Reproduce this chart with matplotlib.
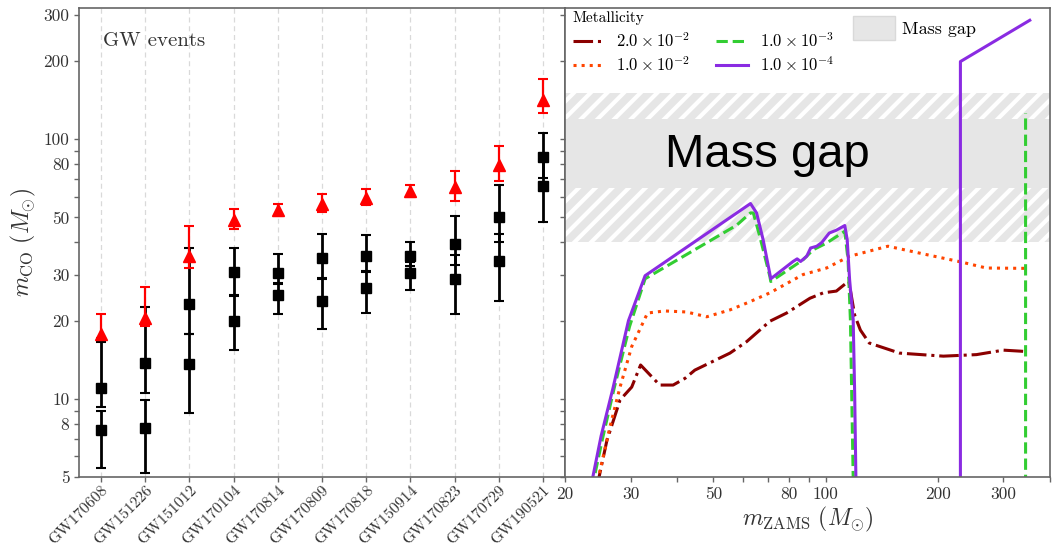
import numpy as np
import matplotlib
matplotlib.use("Agg")
import matplotlib.pyplot as plt
from matplotlib.ticker import FixedLocator, FixedFormatter, NullFormatter
from matplotlib.patches import Patch

plt.rcParams["font.family"] = ["cmr10", "DejaVu Serif"]
plt.rcParams["mathtext.fontset"] = "cm"
plt.rcParams["axes.formatter.use_mathtext"] = True
plt.rcParams["hatch.linewidth"] = 3.0

# ---- GW events (GWTC-1 + GW190521) ----
events = ["GW170608", "GW151226", "GW151012", "GW170104", "GW170814", "GW170809",
          "GW170818", "GW150914", "GW170823", "GW170729", "GW190521"]
m1 = [11.0, 13.7, 23.2, 30.8, 30.6, 35.0, 35.4, 35.6, 39.5, 50.2, 85.0]
m1_up = [5.5, 8.8, 14.9, 7.3, 5.6, 8.3, 7.5, 4.7, 11.2, 16.2, 21.0]
m1_lo = [1.7, 3.2, 5.5, 5.6, 3.0, 5.9, 4.7, 3.1, 6.7, 10.2, 14.0]
m2 = [7.6, 7.7, 13.6, 20.0, 25.2, 23.8, 26.7, 30.6, 29.0, 34.0, 66.0]
m2_up = [1.4, 2.2, 4.1, 4.9, 2.8, 5.1, 4.3, 3.0, 6.7, 9.1, 17.0]
m2_lo = [2.2, 2.5, 4.8, 4.6, 4.0, 5.2, 5.2, 4.4, 7.8, 10.1, 18.0]
mf = [17.8, 20.5, 35.6, 48.9, 53.2, 56.3, 59.4, 63.1, 65.4, 79.5, 142.0]
mf_up = [3.4, 6.4, 10.8, 5.1, 3.2, 5.2, 4.9, 3.4, 10.1, 14.7, 28.0]
mf_lo = [0.7, 1.5, 3.8, 4.0, 2.4, 3.8, 3.8, 3.0, 7.4, 10.2, 16.0]

# ---- CO core mass vs ZAMS mass for four metallicities ----
mz_z2e2 = [24.3, 25.9, 28.1, 30.2, 31.9, 35.9, 39.0, 42.0, 44.6, 55.4, 61.4, 70.9,
           78.6, 90.8, 98.6, 106.9, 113.6, 115.5, 119.7, 124, 131, 158, 207, 254, 300, 349]
mco_z2e2 = [4.5, 6.9, 9.9, 11.1, 13.5, 11.3, 11.3, 12.0, 12.9, 15.0, 16.6, 19.9,
            21.4, 24.4, 25.6, 26.0, 27.9, 28.3, 21.0, 18.4, 16.4, 15.0, 14.6, 14.8, 15.4, 15.2]

mz_z1e2 = [24.2, 26.4, 28.1, 30.2, 33.3, 37.0, 42.4, 48.0, 55.4, 62.0, 70.9, 87.0,
           100.6, 116.0, 147.0, 187.0, 230.0, 270.0, 345.0]
mco_z1e2 = [4.5, 7.8, 11.1, 15.9, 21.4, 21.8, 21.6, 20.7, 22.0, 23.5, 25.6, 30.1,
            31.9, 35.4, 38.7, 35.9, 33.7, 31.9, 31.8]

mz_z1e3 = [23.6, 25.2, 27.1, 29.8, 32.8, 57.7, 62.9, 64.0, 66.6, 70.9, 71.3, 87.0, 92.6,
           100.6, 112.6, 114.9, 116.6, 118.6, 119.0, np.nan, 344.0, 344.0]
mco_z1e3 = [4.5, 7.0, 11.0, 19.0, 29.0, 46.6, 52.0, 52.0, 42.3, 29.6, 28.3, 34.3, 37.5,
            39.8, 44.2, 34.3, 20.0, 5.0, 3.0, np.nan, 3.0, 126.0]

mz_z1e4 = [23.4, 25.0, 26.9, 29.6, 32.8, 62.9, 65.3, 68.0, 71.3, 81.8, 83.9, 85.7, 89.0,
           91.2, 94.7, 97.7, 102.3, 106.9, 112.6, 114.3, 116.0, 118.6, 119.7, 120.6, 121.0,
           np.nan, 230.0, 230.0, 353.0]
mco_z1e4 = [4.5, 7.2, 11.0, 20.0, 29.8, 56.5, 52.0, 41.0, 29.0, 33.8, 34.6, 33.8, 35.4,
            38.1, 38.7, 40.0, 43.5, 44.6, 46.5, 41.0, 28.8, 20.2, 10.5, 5.0, 3.0,
            np.nan, 3.0, 199.0, 287.0]

gap_outer = (40, 150)
gap_inner = (65, 120)

ytick_major = [5, 8, 10, 20, 30, 50, 80, 100, 200, 300]
ytick_minor = [6, 7, 9, 40, 60, 70, 90]
xtick_major = [20, 30, 50, 80, 100, 200, 300]
xtick_minor = [40, 60, 70, 90, 400]

text_c = "0.2"
spine_c = "0.4"

fig = plt.figure(figsize=(10.53, 5.46), dpi=100)
ax1 = fig.add_axes([79 / 1053, 69 / 546, 486 / 1053, 469 / 546])
ax2 = fig.add_axes([565 / 1053, 69 / 546, 485 / 1053, 469 / 546], sharey=ax1)

for ax in (ax1, ax2):
    for s in ax.spines.values():
        s.set_color(spine_c)
        s.set_linewidth(1.2)
    ax.tick_params(which="both", direction="out", length=3.5, width=1.0,
                   color=spine_c, labelcolor=text_c, labelsize=12.5)

# ---- left panel ----
xpos = np.arange(len(events))
for x in xpos:
    ax1.axvline(x, color="0.85", lw=0.9, ls=(0, (4, 3)), zorder=0)

ax1.errorbar(xpos, m1, yerr=[m1_lo, m1_up], fmt="s", color="black", ms=7,
             elinewidth=2.0, capsize=3.5, capthick=1.5, zorder=3)
ax1.errorbar(xpos, m2, yerr=[m2_lo, m2_up], fmt="s", color="black", ms=7,
             elinewidth=2.0, capsize=3.5, capthick=1.5, zorder=3)
ax1.errorbar(xpos, mf, yerr=[mf_lo, mf_up], fmt="^", color="red", ms=8,
             elinewidth=1.6, capsize=3.5, capthick=1.5, zorder=4)

ax1.set_yscale("log")
ax1.set_ylim(5, 320)
ax1.set_xlim(-0.5, len(events) - 0.5)
ax1.yaxis.set_major_locator(FixedLocator(ytick_major))
ax1.yaxis.set_major_formatter(FixedFormatter([str(v) for v in ytick_major]))
ax1.yaxis.set_minor_locator(FixedLocator(ytick_minor))
ax1.yaxis.set_minor_formatter(NullFormatter())
ax1.set_xticks(xpos)
ax1.set_xticklabels(events, rotation=45, ha="right", rotation_mode="anchor", fontsize=11.5)
ax1.tick_params(axis="x", pad=1)
ax1.set_ylabel(r"$m_{\rm CO}\ (M_{\odot})$", fontsize=17, color=text_c)
ax1.text(0.05, 0.93, "GW events", transform=ax1.transAxes, fontsize=15,
         color=text_c, ha="left", va="center")

# ---- right panel ----
ax2.axhspan(*gap_outer, facecolor="0.9", edgecolor="white", hatch="//", linewidth=0, zorder=0)
ax2.axhspan(*gap_inner, facecolor="0.9", edgecolor="none", linewidth=0, zorder=0.5)
ax2.text(70, 78, "Mass gap", fontsize=34, family="Liberation Sans",
         ha="center", va="baseline", color="black", zorder=1)

l1, = ax2.plot(mz_z2e2, mco_z2e2, color="darkred", ls="-.", lw=2.2,
               label=r"$2.0\times10^{-2}$")
l2, = ax2.plot(mz_z1e2, mco_z1e2, color="orangered", ls=":", lw=2.2,
               label=r"$1.0\times10^{-2}$")
l3, = ax2.plot(mz_z1e3, mco_z1e3, color="limegreen", ls="--", lw=2.2,
               label=r"$1.0\times10^{-3}$")
l4, = ax2.plot(mz_z1e4, mco_z1e4, color="blueviolet", ls="-", lw=2.2,
               label=r"$1.0\times10^{-4}$")

ax2.set_xscale("log")
ax2.set_xlim(20, 400)
ax2.xaxis.set_major_locator(FixedLocator(xtick_major))
ax2.xaxis.set_major_formatter(FixedFormatter([str(v) for v in xtick_major]))
ax2.xaxis.set_minor_locator(FixedLocator(xtick_minor))
ax2.xaxis.set_minor_formatter(NullFormatter())
ax2.tick_params(axis="y", which="both", labelleft=False)
ax2.set_xlabel(r"$m_{\rm ZAMS}\ (M_{\odot})$", fontsize=17, color=text_c, labelpad=2)

leg1 = ax2.legend(handles=[l1, l2, l3, l4], ncol=2, loc="upper left",
                  bbox_to_anchor=(-0.005, 1.015), frameon=False, fontsize=12,
                  title="Metallicity", title_fontsize=11, alignment="left",
                  handlelength=1.9, columnspacing=1.6, labelspacing=0.35,
                  handletextpad=0.7, borderaxespad=0.2)
ax2.add_artist(leg1)
ax2.legend(handles=[Patch(facecolor="0.9", edgecolor="0.85", label="Mass gap")],
           loc="upper right", bbox_to_anchor=(0.87, 1.005), frameon=False,
           fontsize=13, handlelength=2.3, handleheight=1.6, handletextpad=0.4,
           borderaxespad=0.2)

fig.savefig("out.png", dpi=100)
